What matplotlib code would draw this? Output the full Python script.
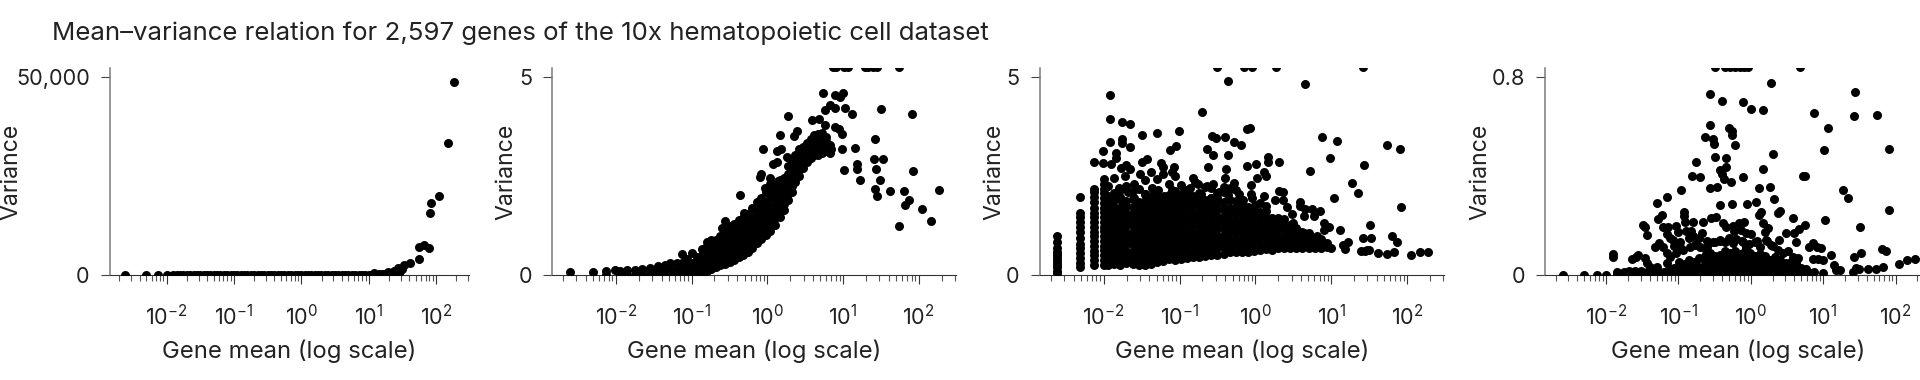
import numpy as np
import matplotlib
matplotlib.use("Agg")
import matplotlib.pyplot as plt
from matplotlib.ticker import LogLocator, NullFormatter, FixedLocator, FixedFormatter

plt.rcParams['font.family'] = ['Inter', 'DejaVu Sans']
plt.rcParams['mathtext.fontset'] = 'custom'
plt.rcParams['mathtext.rm'] = 'Inter'
plt.rcParams['mathtext.default'] = 'rm'

TITLE = "Mean\u2013variance relation for 2,597 genes of the 10x hematopoietic cell dataset"
X_LABEL = "Gene mean (log scale)"
Y_LABEL = "Variance"
X_TICKS = [1e-2, 1e-1, 1e0, 1e1, 1e2]
X_TICK_LABELS = ["$10^{-2}$", "$10^{-1}$", "$10^{0}$", "$10^{1}$", "$10^{2}$"]

# ---- values: columns of log10(mean) with the variances seen there ----
p1_log_mean = [-2.61, -2.31, -2.13, -2.0, -1.9, -1.85, -1.8, -1.75, -1.7, -1.65, -1.6, -1.55, -1.5, -1.45, -1.4, -1.35,
               -1.3, -1.25, -1.2, -1.15, -1.1, -1.05, -1.0, -0.95, -0.9, -0.85, -0.8, -0.75, -0.7, -0.65, -0.6, -0.55,
               -0.5, -0.45, -0.4, -0.35, -0.3, -0.25, -0.2, -0.15, -0.1, -0.05, 0.0, 0.05, 0.1, 0.15, 0.2, 0.25, 0.3,
               0.35, 0.4, 0.45, 0.5, 0.55, 0.6, 0.65, 0.7, 0.75, 0.8, 0.85, 0.9, 0.95, 1.0, 1.04, 1.08, 1.12, 1.16, 1.2,
               1.24, 1.28, 1.32, 1.35, 1.37, 1.39, 1.41, 1.43, 1.45, 1.47, 1.49, 1.52, 1.62, 1.742, 1.75, 1.82, 1.89,
               1.916, 1.92, 2.05, 2.174, 2.263]
p1_var = [0, 0, 0, 0, 0, 0, 0, 0, 0, 0, 0, 0, 0, 0, 0, 0,
          0, 0, 0, 0, 0, 0, 0, 0, 0, 0, 0, 0, 0, 0, 0, 0,
          0, 0, 0, 0, 0, 0, 0, 0, 0, 0, 0, 0, 0, 0, 0, 0, 0,
          0, 0, 0, 10, 10, 10, 10, 20, 20, 30, 30, 40, 60, 80, 120, 670, 180, 220, 250,
          300, 930, 420, 700, 1180, 500, 760, 1770, 650, 1000, 1690, 2530, 3200, 4215, 7250, 7670, 7000,
          15850, 18200, 20060, 33300, 48900]

p2_outlier_log_mean = [0.868, 0.912, 1.009, 1.066, 1.286, 1.33, 1.396, 1.449, 1.74,
                       0.728, 0.891, 0.956, 0.992, 0.833, 0.895, 0.754, 1.031, 1.115, 1.502, 1.915, 0.275, 0.591, 0.679,
                       0.758, 0.891, 0.948, 0.987, 0.389, 0.349, 0.169, 1.418, 1.154, 0.987, 0.846, -0.055, 0.178, 0.129,
                       0.253, 0.129, 0.077, 1.405, 1.52, 1.181, 1.185, 1.005, 1.436, 1.92, 1.493, 1.225, -0.09, -0.1,
                       1.418, 1.616, 1.45, 1.81, 2.26, 1.876, 1.823, 2.047, 2.166, 1.735, -0.359, -0.31, -0.561, -0.605,
                       -0.033, 0.033, 0.143, -2.607, -2.304, -2.13, -2.13, -2.01]
p2_outlier_var = [5.26, 5.26, 5.26, 5.26, 5.26, 5.26, 5.26, 5.26, 5.26,
                  4.60, 4.56, 4.51, 4.61, 4.29, 4.23, 4.18, 4.23, 4.08, 4.21, 4.08, 4.02, 3.91, 3.95,
                  3.80, 3.74, 3.70, 3.57, 3.64, 3.52, 3.54, 3.43, 3.22, 3.18, 3.18, 3.19, 3.18, 3.15,
                  2.98, 2.87, 2.82, 2.93, 2.93, 2.81, 2.69, 2.66, 2.68, 2.64, 2.41, 2.41, 2.56, 2.47,
                  2.17, 2.13, 2.00, 2.13, 2.15, 1.89, 1.78, 1.68, 1.38, 1.24, 2.03, 1.58, 1.36, 1.20,
                  2.20, 2.45, 2.39, 0.08, 0.08, 0.11, 0.02, 0.13]

p2_column_log_mean = [-1.95, -1.85, -1.75, -1.65, -1.55, -1.45, -1.35, -1.28, -1.2, -1.13, -1.06, -1.0, -0.93, -0.86,
                      -0.8, -0.74, -0.68, -0.62, -0.56, -0.5, -0.44, -0.38, -0.32, -0.26, -0.2, -0.14, -0.08, -0.02,
                      0.04, 0.1, 0.16, 0.22, 0.27, 0.32, 0.37, 0.42, 0.47, 0.52, 0.57, 0.62, 0.67, 0.72, 0.77, 0.82]
p2_column_var = [[0.02, 0.1], [0.02, 0.13], [0.02, 0.14], [0.03, 0.16], [0.02, 0.12, 0.18], [0.03, 0.14, 0.23],
                 [0.02, 0.14, 0.25], [0.03, 0.15, 0.3], [0.02, 0.16, 0.32], [0.02, 0.16, 0.3, 0.55], [0.03, 0.16, 0.3, 0.42],
                 [0.04, 0.18, 0.32, 0.56], [0.04, 0.18, 0.32, 0.46], [0.05, 0.2, 0.35, 0.5, 0.66],
                 [0.12, 0.26, 0.42, 0.58, 0.74, 0.85], [0.15, 0.3, 0.45, 0.6, 0.76, 0.88], [0.2, 0.35, 0.5, 0.65, 0.8, 0.9],
                 [0.25, 0.4, 0.55, 0.7, 0.85, 1.0], [0.28, 0.44, 0.6, 0.76, 0.92, 1.08, 1.15], [0.34, 0.5, 0.66, 0.82, 0.98, 1.14, 1.25],
                 [0.38, 0.53, 0.68, 0.84, 1.0, 1.16, 1.3], [0.46, 0.62, 0.78, 0.94, 1.1, 1.26, 1.4], [0.52, 0.68, 0.84, 1.0, 1.16, 1.32, 1.45],
                 [0.6, 0.76, 0.92, 1.08, 1.24, 1.4, 1.55], [0.68, 0.84, 1.0, 1.16, 1.32, 1.48, 1.7], [0.82, 0.98, 1.14, 1.3, 1.46, 1.62, 1.85],
                 [0.92, 1.08, 1.24, 1.4, 1.56, 1.72, 1.95], [1.02, 1.18, 1.34, 1.5, 1.66, 1.85, 2.1],
                 [1.12, 1.28, 1.44, 1.6, 1.76, 1.95, 2.15, 2.3], [1.28, 1.44, 1.6, 1.76, 1.92, 2.1, 2.3], [1.46, 1.62, 1.78, 1.94, 2.1, 2.25, 2.4],
                 [1.65, 1.8, 1.96, 2.12, 2.28, 2.45], [1.9, 2.05, 2.2, 2.38, 2.55, 2.75], [2.1, 2.25, 2.4, 2.55, 2.7, 2.85],
                 [2.35, 2.5, 2.65, 2.8, 2.95, 3.05], [2.5, 2.65, 2.8, 2.95, 3.1, 3.2], [2.7, 2.85, 3.0, 3.12, 3.25], [2.85, 2.98, 3.1, 3.22, 3.35],
                 [2.95, 3.08, 3.2, 3.32, 3.45], [3.05, 3.15, 3.28, 3.4, 3.55], [3.05, 3.15, 3.28, 3.42, 3.58], [3.08, 3.2, 3.34, 3.48, 3.6],
                 [3.15, 3.26, 3.38, 3.5], [3.1, 3.22, 3.3]]

p3_outlier_log_mean = [-0.505, -0.156, -0.046, 0.276, 1.423, -0.363, 0.647, -1.912, -0.7, -1.912, -1.762, -1.656, -1.303, -1.008,
                       -1.493, -0.112, -0.077, -0.575, -0.518, -0.399, -0.289, -0.191, -1.912, -1.762, -1.762, -1.656, -1.047,
                       -1.127, -2.01, -0.641, -0.562, -0.363, -1.832, -1.832, -2.13, -2.01, -1.9, -1.435, -1.493, -1.25, -1.22,
                       -1.07, -1.10, -1.70, -1.77, -0.62, -0.386, -0.40, -0.112, 0.003, 0.166, 0.166, 0.307, 0.117, 0.144, 0.02,
                       -0.827, -0.059, 0.872, 1.07, 0.978, 0.726, 1.436, 1.74, 1.912, 1.277, 1.348, 1.035, 1.917, 1.507, 1.11,
                       1.807, 1.873, 1.423, 1.52, 1.225, 1.158, 1.176, 1.397, 1.476, 1.617, 1.732, 1.83, 2.05, 2.17, 2.27, 0.99,
                       0.585, 0.585, 0.66, 0.75, 0.85, 0.64, 0.77, 0.48, 0.5, 0.37, 0.31, 0.26, 0.37, 0.42, 0.11, -0.05, 0.06,
                       0.9, 0.97, 0.9, 0.81, 0.64, 1.45, 1.5,
                       -1.86, -1.8, -1.72, -1.66, -1.6, -1.52, -1.45, -1.38, -1.3, -1.22, -1.14, -1.06, -0.98, -0.9, -0.8, -0.72,
                       -0.66, -0.56, -0.5, -0.42, -0.34, -0.28, -0.22, -1.9, -1.84, -1.76, -1.68, -1.6, -1.54, -1.46, -1.36, -1.28,
                       -1.2, -1.1, -1.02, -0.94, -0.86, -0.76, -0.64, -0.58, -0.48, -0.36, -0.26, -0.16, -0.06, 0.0, 0.14]
p3_outlier_var = [5.26, 5.26, 5.26, 5.26, 5.26, 4.90, 4.83, 4.55, 4.12, 3.95, 3.86, 3.82, 3.60, 3.64,
                  3.55, 3.69, 3.73, 3.51, 3.47, 3.49, 3.37, 3.29, 3.37, 3.43, 3.35, 3.25, 3.26,
                  3.16, 3.13, 3.19, 3.03, 3.03, 3.08, 2.95, 2.87, 2.83, 2.80, 2.94, 2.87, 2.83, 2.74,
                  2.73, 2.62, 2.79, 2.70, 2.74, 2.68, 2.46, 2.75, 2.80, 2.98, 2.85, 2.86, 2.60, 2.51, 2.46,
                  2.45, 2.27, 3.48, 3.39, 2.95, 2.63, 2.79, 3.30, 3.20, 2.34, 2.08, 1.96, 1.72, 1.26, 1.14,
                  1.0, 0.85, 0.93, 0.93, 0.84, 0.77, 0.66, 0.62, 0.64, 0.56, 0.54, 0.58, 0.52, 0.59, 0.6, 0.68,
                  1.86, 1.76, 1.67, 1.67, 1.62, 1.51, 1.51, 1.55, 1.31, 2.11, 2.13, 1.90, 1.9, 1.73, 1.99, 1.94, 1.82,
                  1.31, 1.23, 1.14, 0.98, 1.06, 0.62, 0.64,
                  2.45, 2.2, 2.5, 2.68, 2.3, 2.55, 2.4, 2.62, 2.42, 2.55, 2.3, 2.5, 2.28, 2.15, 2.35, 2.05,
                  2.22, 2.3, 2.08, 2.22, 2.18, 2.32, 2.06, 1.95, 2.05, 1.85, 2.1, 1.95, 1.8, 2.05, 2.2, 2.15,
                  2.0, 2.15, 2.0, 2.12, 2.2, 2.3, 2.25, 1.95, 2.1, 2.02, 2.15, 1.9, 2.05, 1.78, 1.75]

p3_column_log_mean = [-2.617, -2.31, -2.13, -2.0, -1.94, -1.86, -1.78, -1.7, -1.62, -1.54, -1.46, -1.38, -1.3, -1.22, -1.14, -1.06,
                      -0.98, -0.9, -0.82, -0.74, -0.66, -0.58, -0.5, -0.42, -0.34, -0.26, -0.18, -0.1, -0.02, 0.06, 0.14, 0.22,
                      0.3, 0.38, 0.46, 0.54, 0.62, 0.7, 0.78, 0.86, 0.94]
p3_column_var = [[0.06, 0.12, 0.2, 0.28, 0.36, 0.44, 0.52, 0.6, 0.7, 0.85, 1.0],
                 [0.2, 0.32, 0.44, 0.56, 0.68, 0.8, 0.95, 1.1, 1.22, 1.35, 1.48, 1.58, 1.98],
                 [0.26, 0.38, 0.5, 0.62, 0.74, 0.86, 0.98, 1.1, 1.22, 1.34, 1.46, 1.58, 1.7, 1.85, 1.97, 2.1, 2.18],
                 [0.27, 0.39, 0.51, 0.63, 0.75, 0.87, 0.99, 1.11, 1.23, 1.35, 1.47, 1.59, 1.71, 1.83, 1.95, 2.07, 2.19, 2.31, 2.42],
                 [0.27, 0.42, 0.57, 0.72, 0.87, 1.02, 1.17, 1.32, 1.46, 1.62, 1.8, 2.0, 2.25],
                 [0.28, 0.44, 0.6, 0.76, 0.92, 1.08, 1.24, 1.4, 1.55, 1.72, 1.9, 2.08],
                 [0.27, 0.43, 0.59, 0.75, 0.91, 1.07, 1.23, 1.39, 1.55, 1.7, 1.98, 2.15],
                 [0.3, 0.46, 0.62, 0.78, 0.94, 1.1, 1.26, 1.42, 1.58, 1.75, 1.88, 2.25],
                 [0.28, 0.44, 0.6, 0.76, 0.92, 1.08, 1.24, 1.4, 1.56, 1.72, 1.92, 2.12],
                 [0.26, 0.42, 0.58, 0.74, 0.9, 1.06, 1.22, 1.38, 1.54, 1.7, 1.85, 2.18],
                 [0.27, 0.43, 0.59, 0.75, 0.91, 1.07, 1.23, 1.39, 1.55, 1.71, 1.87, 2.05],
                 [0.28, 0.44, 0.6, 0.76, 0.92, 1.08, 1.24, 1.4, 1.56, 1.72, 1.88, 2.0],
                 [0.33, 0.49, 0.65, 0.81, 0.97, 1.13, 1.29, 1.45, 1.61, 1.77, 1.95, 2.08],
                 [0.36, 0.52, 0.68, 0.84, 1.0, 1.16, 1.32, 1.48, 1.64, 1.8, 1.98],
                 [0.4, 0.56, 0.72, 0.88, 1.04, 1.2, 1.36, 1.52, 1.68, 1.84, 2.02],
                 [0.38, 0.54, 0.7, 0.86, 1.02, 1.18, 1.34, 1.5, 1.66, 1.82, 1.96, 2.12],
                 [0.42, 0.58, 0.74, 0.9, 1.06, 1.22, 1.38, 1.54, 1.7, 1.86, 2.04],
                 [0.44, 0.6, 0.76, 0.92, 1.08, 1.24, 1.4, 1.56, 1.72, 1.88, 2.02],
                 [0.46, 0.62, 0.78, 0.94, 1.1, 1.26, 1.42, 1.58, 1.74, 1.9, 2.0],
                 [0.46, 0.62, 0.78, 0.94, 1.1, 1.26, 1.42, 1.58, 1.74, 1.92, 2.08],
                 [0.48, 0.64, 0.8, 0.96, 1.12, 1.28, 1.44, 1.6, 1.76, 1.9],
                 [0.5, 0.66, 0.82, 0.98, 1.14, 1.3, 1.46, 1.62, 1.78, 1.95, 2.2],
                 [0.52, 0.68, 0.84, 1.0, 1.16, 1.32, 1.48, 1.64, 1.8, 1.96],
                 [0.55, 0.71, 0.87, 1.03, 1.19, 1.35, 1.51, 1.67, 1.85, 2.1],
                 [0.58, 0.74, 0.9, 1.06, 1.22, 1.38, 1.54, 1.7, 1.9, 2.2],
                 [0.58, 0.74, 0.9, 1.06, 1.22, 1.38, 1.54, 1.72, 1.88],
                 [0.58, 0.74, 0.9, 1.06, 1.22, 1.38, 1.54, 1.7, 1.85],
                 [0.6, 0.76, 0.92, 1.08, 1.24, 1.4, 1.56, 1.72],
                 [0.62, 0.78, 0.94, 1.1, 1.26, 1.42, 1.58, 1.72],
                 [0.64, 0.8, 0.96, 1.12, 1.28, 1.44, 1.6],
                 [0.66, 0.82, 0.98, 1.14, 1.3, 1.46, 1.62],
                 [0.64, 0.8, 0.96, 1.12, 1.28, 1.44],
                 [0.68, 0.84, 1.0, 1.16, 1.32, 1.44],
                 [0.68, 0.84, 1.0, 1.16, 1.3, 1.42],
                 [0.7, 0.84, 0.98, 1.12, 1.26],
                 [0.68, 0.82, 0.96, 1.1, 1.2],
                 [0.68, 0.82, 0.96, 1.1],
                 [0.7, 0.82, 0.94, 1.06],
                 [0.7, 0.82, 0.94],
                 [0.7, 0.8, 0.92],
                 [0.72, 0.82]]

p4_outlier_log_mean = [-0.5, -0.36, -0.29, -0.22, -0.15, -0.09, -0.04, 0.68,
                       0.277, -0.567, -0.402, -0.104, 0.006, 0.167, 1.434, 0.87, 1.42, 1.742, 1.067, -0.558, -0.301, -0.255,
                       -0.255, -0.223, -0.636, -0.522, -0.512, 1.016, 1.912, 0.31, -0.499, -0.342, -0.347, -0.751, -0.43, -0.393,
                       -0.375, -0.27, 0.167, -0.806, -0.696, -0.108, 0.727, 0.755, -0.558, -0.462, 0.107, 0.259, -0.967, -1.155,
                       -1.302, 0.314, -0.425, -0.255, -0.053, 0.075, 1.274, 1.347, 1.916, 0.144, 0.12, 0.397, 0.375, 0.58, 1.03,
                       1.503, 0.755, 0.672, 0.59, 0.489, 0.626, 0.387, 0.81, 0.856, 0.92, 0.97, 0.51, 1.113, 0.856, 0.923, 0.994,
                       1.806, 1.875, 1.52, 1.43, 2.265, 2.165, 2.045, 1.83, 1.733, 1.618, 1.49, 1.407, 1.453, 1.154, 1.177, 1.232,
                       0.994, 0.88, -2.6, -2.3, -2.13, -2.0, -1.908, -1.908, -1.646, -1.587, -1.555, -1.463, -1.44, -1.486, -1.458,
                       -1.43, -1.28, -1.23, -1.21, -1.14, -1.16, -1.118, -1.325, -1.265, -1.21, -1.165,
                       -1.03, -0.93, -0.93, -0.91, -0.8, -1.0, -0.89, -0.82, -0.66, -0.55, -0.48, -0.68, -0.72, -0.38, -0.34, -0.25,
                       -0.16, -0.09, -0.23, -0.14, -0.07, 0.17, 0.24, 0.19, -0.98, -0.86, -0.8, -0.76, -0.6, -0.5, -0.42, -0.3, -0.2,
                       -0.12, 0.0, 0.08, 0.22, 0.3, -1.06, -0.6, -0.02,
                       -1.073, -0.98, -1.027, -0.935, -0.843, -0.774, -0.705, -0.613, -0.522, -0.43, -0.361, -0.246, -0.108, -0.062,
                       0.052, 0.121, 0.213, 0.282, 0.374, 0.443, 0.58, 0.649, -1.118, -1.164, -1.302, -1.394]
p4_outlier_var = [0.842, 0.842, 0.842, 0.842, 0.842, 0.842, 0.842, 0.842,
                  0.777, 0.731, 0.703, 0.70, 0.672, 0.668, 0.741, 0.655, 0.644, 0.647, 0.597, 0.607, 0.597, 0.585,
                  0.566, 0.528, 0.558, 0.551, 0.531, 0.505, 0.511, 0.492, 0.478, 0.476, 0.438, 0.458, 0.426, 0.41,
                  0.388, 0.377, 0.43, 0.40, 0.396, 0.397, 0.40, 0.401, 0.354, 0.357, 0.353, 0.356, 0.346, 0.315,
                  0.292, 0.307, 0.283, 0.288, 0.29, 0.295, 0.345, 0.313, 0.264, 0.257, 0.244, 0.26, 0.25, 0.23, 0.225,
                  0.194, 0.203, 0.187, 0.17, 0.172, 0.136, 0.143, 0.116, 0.13, 0.116, 0.11, 0.098, 0.082, 0.065, 0.067, 0.062,
                  0.106, 0.098, 0.089, 0.073, 0.067, 0.062, 0.046, 0.035, 0.024, 0.027, 0.024, 0.015, 0.028, 0.042, 0.022, 0.022,
                  0.011, 0.015, 0.0, 0.0, 0.0, 0.003, 0.086, 0.075, 0.065, 0.075, 0.082, 0.069, 0.048, 0.203, 0.194,
                  0.163, 0.226, 0.244, 0.197, 0.197, 0.167, 0.15, 0.113, 0.132, 0.116, 0.089,
                  0.2, 0.255, 0.238, 0.215, 0.215, 0.175, 0.18, 0.18, 0.215, 0.23, 0.236, 0.17, 0.15, 0.21, 0.195, 0.2,
                  0.21, 0.215, 0.18, 0.185, 0.17, 0.21, 0.19, 0.175, 0.135, 0.15, 0.16, 0.125, 0.14, 0.135, 0.14, 0.15, 0.145,
                  0.14, 0.165, 0.14, 0.14, 0.12, 0.12, 0.115, 0.125,
                  0.143, 0.116, 0.089, 0.102, 0.116, 0.123, 0.116, 0.102, 0.136, 0.143, 0.136, 0.129, 0.136, 0.116,
                  0.136, 0.116, 0.143, 0.123, 0.102, 0.089, 0.075, 0.069, 0.075, 0.048, 0.035, 0.035]

p4_column_log_mean = [-1.85, -1.75, -1.68, -1.6, -1.52, -1.44, -1.36, -1.28, -1.2, -1.13, -1.06, -0.99, -0.92, -0.85, -0.78, -0.71,
                      -0.64, -0.57, -0.5, -0.43, -0.36, -0.29, -0.22, -0.15, -0.08, -0.01, 0.06, 0.13, 0.2, 0.27, 0.34, 0.41,
                      0.48, 0.55, 0.62, 0.69, 0.76, 0.84]
p4_column_var = [[0.006, 0.012], [0.006, 0.014], [0.008, 0.016], [0.008, 0.018], [0.008, 0.016], [0.006, 0.014], [0.008, 0.018],
                 [0.008, 0.016], [0.006, 0.014], [0.008, 0.024], [0.01, 0.03], [0.01, 0.03, 0.052], [0.01, 0.03, 0.045],
                 [0.012, 0.034, 0.06], [0.01, 0.032, 0.054], [0.012, 0.034, 0.07], [0.01, 0.032, 0.058, 0.08],
                 [0.012, 0.034, 0.056, 0.09], [0.01, 0.032, 0.054, 0.08], [0.012, 0.034, 0.056, 0.084],
                 [0.01, 0.032, 0.054, 0.076, 0.1], [0.012, 0.034, 0.056, 0.092], [0.01, 0.032, 0.054, 0.076, 0.1],
                 [0.012, 0.034, 0.056, 0.088], [0.01, 0.032, 0.054, 0.076, 0.1], [0.012, 0.034, 0.06, 0.09],
                 [0.01, 0.032, 0.054, 0.08], [0.012, 0.034, 0.056, 0.088], [0.01, 0.032, 0.054, 0.076],
                 [0.012, 0.034, 0.062], [0.01, 0.032, 0.054, 0.075], [0.012, 0.034, 0.06], [0.01, 0.032, 0.05],
                 [0.012, 0.034, 0.052], [0.01, 0.03, 0.05], [0.01, 0.03], [0.01, 0.025], [0.008]]

p1_ylim = (0, 52270); p2_ylim = (0, 5.227); p3_ylim = (0, 5.227); p4_ylim = (0, 0.8365)
p1_yticks = [0, 50000]; p1_yticklabels = ["0", "50,000"]
p2_yticks = [0, 5]; p2_yticklabels = ["0", "5"]
p3_yticks = [0, 5]; p3_yticklabels = ["0", "5"]
p4_yticks = [0, 0.8]; p4_yticklabels = ["0", "0.8"]


def expand(col_x, col_y):
    xs, ys = [], []
    for x, vals in zip(col_x, col_y):
        xs += [x] * len(vals)
        ys += list(vals)
    return xs, ys


p2x, p2y = expand(p2_column_log_mean, p2_column_var)
p3x, p3y = expand(p3_column_log_mean, p3_column_var)
p4x, p4y = expand(p4_column_log_mean, p4_column_var)

panels = [
    (p1_log_mean, p1_var, p1_ylim, p1_yticks, p1_yticklabels, (110, 469), 99),
    (p2_outlier_log_mean + p2x, p2_outlier_var + p2y, p2_ylim, p2_yticks, p2_yticklabels, (552.3, 956), 46),
    (p3_outlier_log_mean + p3x, p3_outlier_var + p3y, p3_ylim, p3_yticks, p3_yticklabels, (1040, 1444.3), 46),
    (p4_outlier_log_mean + p4x, p4_outlier_var + p4y, p4_ylim, p4_yticks, p4_yticklabels, (1545.3, 1931), 65),
]

W, H = 1920, 380
TOP, BOTTOM = 68.3, 275.3
TXT = "#222222"
GREY = "#7a7a7a"
fig = plt.figure(figsize=(W / 100, H / 100), dpi=100, facecolor="white")
fig.text(52 / W, 1 - 33.5 / H, TITLE, fontsize=18.6, color=TXT, ha="left", va="center")

for lx, v, ylim, yt, ytl, (L, R), ylab_off in panels:
    ax = fig.add_axes([L / W, 1 - BOTTOM / H, (R - L) / W, (BOTTOM - TOP) / H])
    ax.scatter(10 ** np.array(lx, dtype=float), v, s=42, c="black", linewidths=0, zorder=3)
    ax.set_xscale("log")
    ax.set_xlim(10 ** -2.84, 10 ** 2.49)
    ax.set_ylim(*ylim)
    for s in ("top", "right"):
        ax.spines[s].set_visible(False)
    ax.spines["left"].set_color(GREY)
    ax.spines["left"].set_linewidth(1.1)
    ax.spines["bottom"].set_color("#333333")
    ax.spines["bottom"].set_linewidth(0.8)
    ax.xaxis.set_major_locator(FixedLocator(X_TICKS))
    ax.xaxis.set_major_formatter(FixedFormatter(X_TICK_LABELS))
    ax.xaxis.set_minor_locator(LogLocator(base=10, subs=(2, 3, 4, 5, 6, 7, 8, 9), numticks=20))
    ax.xaxis.set_minor_formatter(NullFormatter())
    ax.tick_params(axis="x", which="major", length=6.5, width=0.8, color="#333333", labelsize=15.6,
                   labelcolor=TXT, pad=14.5)
    ax.tick_params(axis="x", which="minor", length=4.3, width=0.8, color="#555555")
    ax.set_yticks(yt)
    ax.set_yticklabels(ytl)
    ax.tick_params(axis="y", length=6.5, width=0.8, color="#444444", labelsize=15.6, labelcolor=TXT, pad=8)
    ax.set_xlabel(X_LABEL, fontsize=17.2, color=TXT, va="center")
    ax.xaxis.set_label_coords(0.5, -(351 - BOTTOM) / (BOTTOM - TOP))
    ax.set_ylabel(Y_LABEL, fontsize=16.6, color=TXT, va="center")
    ax.yaxis.set_label_coords(-ylab_off / (R - L), 0.5)

fig.savefig("out.png", dpi=100, facecolor="white")
